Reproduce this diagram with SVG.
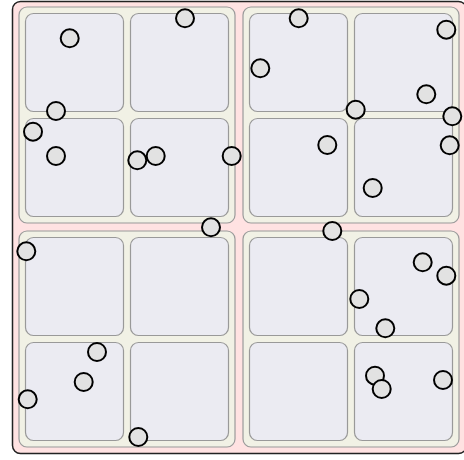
<svg xmlns="http://www.w3.org/2000/svg" width="464" height="460" viewBox="0 0 464 460">
<style>
.outer{fill:#ffe2e2;stroke:#222;stroke-width:1.5}
.quad{fill:#f1f1e5;stroke:#9a9a9a;stroke-width:1.2}
.cell{fill:#ebebf2;stroke:#999;stroke-width:1.2}
.pt{fill:#e2e2e2;stroke:#000;stroke-width:2}
</style>
<rect width="464" height="460" fill="#fff"/>
<g id="frame">
<rect class="outer" x="12.5" y="1.5" width="454" height="452" rx="8"/>
</g>
<g id="quadrant-tl">
<rect class="quad" x="19" y="7" width="216" height="216" rx="8"/>
<rect class="cell" x="25.5" y="13.5" width="98" height="98" rx="8"/>
<rect class="cell" x="130.5" y="13.5" width="98" height="98" rx="8"/>
<rect class="cell" x="25.5" y="118.5" width="98" height="98" rx="8"/>
<rect class="cell" x="130.5" y="118.5" width="98" height="98" rx="8"/>
</g>
<g id="quadrant-tr">
<rect class="quad" x="243" y="7" width="216" height="216" rx="8"/>
<rect class="cell" x="249.5" y="13.5" width="98" height="98" rx="8"/>
<rect class="cell" x="354.5" y="13.5" width="98" height="98" rx="8"/>
<rect class="cell" x="249.5" y="118.5" width="98" height="98" rx="8"/>
<rect class="cell" x="354.5" y="118.5" width="98" height="98" rx="8"/>
</g>
<g id="quadrant-bl">
<rect class="quad" x="19" y="231" width="216" height="216" rx="8"/>
<rect class="cell" x="25.5" y="237.5" width="98" height="98" rx="8"/>
<rect class="cell" x="130.5" y="237.5" width="98" height="98" rx="8"/>
<rect class="cell" x="25.5" y="342.5" width="98" height="98" rx="8"/>
<rect class="cell" x="130.5" y="342.5" width="98" height="98" rx="8"/>
</g>
<g id="quadrant-br">
<rect class="quad" x="243" y="231" width="216" height="216" rx="8"/>
<rect class="cell" x="249.5" y="237.5" width="98" height="98" rx="8"/>
<rect class="cell" x="354.5" y="237.5" width="98" height="98" rx="8"/>
<rect class="cell" x="249.5" y="342.5" width="98" height="98" rx="8"/>
<rect class="cell" x="354.5" y="342.5" width="98" height="98" rx="8"/>
</g>
<g id="points">
<circle class="pt" cx="69.7" cy="38.3" r="9"/>
<circle class="pt" cx="185" cy="18.3" r="9"/>
<circle class="pt" cx="56" cy="111" r="9"/>
<circle class="pt" cx="33" cy="131.7" r="9"/>
<circle class="pt" cx="56" cy="156" r="9"/>
<circle class="pt" cx="137.3" cy="160.3" r="9"/>
<circle class="pt" cx="155.7" cy="156" r="9"/>
<circle class="pt" cx="231.7" cy="156" r="9"/>
<circle class="pt" cx="211" cy="227.3" r="9"/>
<circle class="pt" cx="298.7" cy="18.3" r="9"/>
<circle class="pt" cx="260.3" cy="68.3" r="9"/>
<circle class="pt" cx="446.3" cy="29.7" r="9"/>
<circle class="pt" cx="426.3" cy="94.3" r="9"/>
<circle class="pt" cx="355.7" cy="109.7" r="9"/>
<circle class="pt" cx="452.3" cy="116.3" r="9"/>
<circle class="pt" cx="327.3" cy="145" r="9"/>
<circle class="pt" cx="449.7" cy="145.3" r="9"/>
<circle class="pt" cx="372.7" cy="188" r="9"/>
<circle class="pt" cx="332.3" cy="231" r="9"/>
<circle class="pt" cx="26.3" cy="251.3" r="9"/>
<circle class="pt" cx="97" cy="352" r="9"/>
<circle class="pt" cx="83.7" cy="382" r="9"/>
<circle class="pt" cx="27.7" cy="399.3" r="9"/>
<circle class="pt" cx="138.3" cy="437" r="9"/>
<circle class="pt" cx="422.7" cy="262.3" r="9"/>
<circle class="pt" cx="446.3" cy="275.7" r="9"/>
<circle class="pt" cx="359.3" cy="299" r="9"/>
<circle class="pt" cx="385.3" cy="328.3" r="9"/>
<circle class="pt" cx="375" cy="375.7" r="9"/>
<circle class="pt" cx="381.7" cy="389" r="9"/>
<circle class="pt" cx="443" cy="380" r="9"/>
</g>
</svg>
